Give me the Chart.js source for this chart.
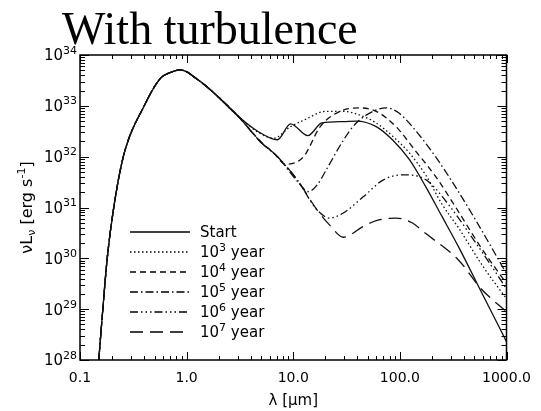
<!DOCTYPE html>
<html>
<head>
<meta charset="utf-8">
<script src="https://cdn.jsdelivr.net/npm/chart.js@4.4.0/dist/chart.umd.min.js"></script>
<style>
  html, body { margin: 0; padding: 0; background: #fff; }
</style>
</head>
<body>
<canvas id="sed" width="541" height="411"></canvas>
<script>
// stellar part, shared by every epoch (wavelength in micron, nuL_nu in erg/s)
const starWave = [0.15, 0.164, 0.18, 0.208, 0.257, 0.40, 0.57, 0.70, 0.875, 1.29, 1.70, 3.03];
const starLum = [1e28, 1.05e29, 1.0e30, 1.05e31, 1.07e32, 1.0e33, 3.5e33, 4.5e33, 5.1e33, 3.2e33, 2.0e33, 6.3e32];

// disk excess, one pair of arrays per epoch
const startWave = [4.6, 7.1, 9.45, 13.7, 18.6, 29.5, 39, 60, 86, 123, 174, 249, 354, 600, 1000];
const startLum = [3.2e32, 2.15e32, 4.4e32, 2.6e32, 4.6e32, 4.9e32, 5.0e32, 3.9e32, 2.1e32, 8.7e31, 2.6e31, 6.6e30, 1.7e30, 1.9e29, 2.3e28];

const yr3Wave = [4.6, 6.5, 9.45, 12.5, 20.4, 29.5, 41.8, 60, 86, 122, 174, 249, 354, 600, 1000];
const yr3Lum = [3.1e32, 2.3e32, 3.9e32, 5.2e32, 7.8e32, 7.8e32, 6.6e32, 4.6e32, 2.5e32, 1.2e32, 4.4e31, 1.15e31, 4.0e30, 7.0e29, 1.6e29];

const yr4Wave = [4.94, 6.5, 8.5, 12.5, 17.9, 27.4, 42, 60, 92, 138, 216, 330, 580, 1000];
const yr4Lum = [2.0e32, 1.2e32, 7.1e31, 1.0e32, 3.9e32, 7.8e32, 9.1e32, 7.8e32, 3.9e32, 1.35e32, 4.1e31, 1.05e31, 1.6e30, 3.2e29];

const yr5Wave = [4.94, 7.1, 10.9, 13.9, 17, 20.4, 29.5, 39, 60, 74.5, 98, 138, 216, 330, 510, 1000];
const yr5Lum = [1.95e32, 1.0e32, 3.3e31, 2.05e31, 2.9e31, 5.5e31, 2.1e32, 4.6e32, 8.3e32, 9.1e32, 7.2e32, 3.4e32, 1.0e32, 2.6e31, 5.8e30, 5.0e29];

const yr6Wave = [4.94, 7.1, 10.9, 16.7, 22, 29.5, 45, 70, 107, 150, 186, 300, 500, 750, 1000];
const yr6Lum = [1.95e32, 1.0e32, 3.5e31, 9.0e30, 6.2e30, 7.8e30, 1.6e31, 3.5e31, 4.4e31, 4.1e31, 3.2e31, 1.0e31, 2.2e30, 6.3e29, 2.5e29];

const yr7Wave = [4.94, 7.1, 10.9, 16.7, 22, 29.5, 45, 60, 92, 130, 174, 354, 580, 1000];
const yr7Lum = [1.95e32, 1.0e32, 3.5e31, 9.0e30, 4.5e30, 2.6e30, 4.2e30, 5.5e30, 6.2e30, 5.0e30, 3.1e30, 9.3e29, 2.5e29, 8.9e28];

const seriesLabels = ['Start', '10^3 year', '10^4 year', '10^5 year', '10^6 year', '10^7 year'];
const xTickLabels = ['0.1', '1.0', '10.0', '100.0', '1000.0'];

const SANS = '"DejaVu Sans", sans-serif';

function pts(wave, lum) {
  const w = starWave.concat(wave);
  const l = starLum.concat(lum);
  return w.map((x, i) => ({ x: x, y: l[i] }));
}

// split "10^3 year" / "νL_ν [erg s^-1]" into normal, raised and lowered runs
function parseRich(text) {
  const out = [];
  const re = /([\^_])([^\s\[\]]+)|([^\^_]+)/g;
  let m;
  while ((m = re.exec(text))) {
    if (m[3]) out.push([m[3], 0]);
    else out.push([m[2], m[1] === '^' ? 1 : -1]);
  }
  return out;
}

function drawRich(ctx, text, x, y, size, align) {
  const parts = parseRich(text);
  const small = Math.round(size * 0.7);
  const fontOf = k => (k ? small : size) + 'px ' + SANS;
  let w = 0;
  parts.forEach(p => { ctx.font = fontOf(p[1]); w += ctx.measureText(p[0]).width; });
  let cx = x;
  if (align === 'right') cx = x - w;
  if (align === 'center') cx = x - w / 2;
  const base = y + size * 0.36;
  ctx.textAlign = 'left';
  ctx.textBaseline = 'alphabetic';
  parts.forEach(p => {
    ctx.font = fontOf(p[1]);
    let by = base;
    if (p[1] === 1) by = base - size * 0.45;
    if (p[1] === -1) by = base + size * 0.22;
    ctx.fillText(p[0], cx, by);
    cx += ctx.measureText(p[0]).width;
  });
}

function isDecade(v) {
  const e = Math.log10(v);
  return Math.abs(e - Math.round(e)) < 1e-6;
}

// IDL style frame: inward ticks on all four sides, power-of-ten labels, legend, title
const decor = {
  id: 'decor',
  afterDraw(chart) {
    const { ctx, chartArea: a, scales } = chart;
    const xs = scales.x, ys = scales.y;
    ctx.save();
    ctx.strokeStyle = '#000';
    ctx.fillStyle = '#000';
    ctx.lineWidth = 1;
    const seg = (x1, y1, x2, y2) => { ctx.beginPath(); ctx.moveTo(x1, y1); ctx.lineTo(x2, y2); ctx.stroke(); };

    for (let e = Math.round(Math.log10(xs.min)); e <= Math.round(Math.log10(xs.max)); e++) {
      for (let k = 1; k <= 9; k++) {
        const v = k * Math.pow(10, e);
        if (v > xs.max * 1.0001) break;
        const px = Math.round(xs.getPixelForValue(v)) + 0.5;
        const len = k === 1 ? 8 : 4;
        seg(px, a.bottom, px, a.bottom - len);
        seg(px, a.top, px, a.top + len);
      }
    }
    for (let e = Math.round(Math.log10(ys.min)); e <= Math.round(Math.log10(ys.max)); e++) {
      for (let k = 1; k <= 9; k++) {
        const v = k * Math.pow(10, e);
        if (v > ys.max * 1.0001) break;
        const py = Math.round(ys.getPixelForValue(v)) + 0.5;
        const len = k === 1 ? 9 : 5;
        seg(a.left, py, a.left + len, py);
        seg(a.right, py, a.right - len, py);
      }
      drawRich(ctx, '10^' + e, a.left - 3, ys.getPixelForValue(Math.pow(10, e)), 15, 'right');
    }

    ctx.lineWidth = 1.5;
    ctx.strokeRect(a.left, a.top, a.right - a.left, a.bottom - a.top);

    // y axis title
    ctx.save();
    ctx.translate(26, (a.top + a.bottom) / 2);
    ctx.rotate(-Math.PI / 2);
    drawRich(ctx, 'νL_ν [erg s^-1]', 0, 0, 16, 'center');
    ctx.restore();

    // legend inside the plot
    chart.data.datasets.forEach((ds, i) => {
      const ly = 232 + i * 20;
      ctx.setLineDash(ds.borderDash || []);
      ctx.lineWidth = ds.borderWidth;
      seg(130, ly, 190, ly);
      ctx.setLineDash([]);
      drawRich(ctx, ds.label, 200, ly, 15, 'left');
    });

    // title
    ctx.font = '46px "Liberation Serif", serif';
    ctx.textAlign = 'left';
    ctx.textBaseline = 'alphabetic';
    ctx.fillText('With turbulence', 62, 44);
    ctx.restore();
  }
};

const lineStyle = (label, data, dash) => ({
  label: label,
  data: data,
  borderColor: '#111',
  borderWidth: 1.3,
  borderDash: dash,
  pointRadius: 0,
  fill: false,
  cubicInterpolationMode: 'monotone'
});

Chart.defaults.font.family = SANS;
Chart.defaults.color = '#000';

new Chart(document.getElementById('sed').getContext('2d'), {
  type: 'line',
  data: {
    datasets: [
      lineStyle(seriesLabels[0], pts(startWave, startLum), []),
      lineStyle(seriesLabels[1], pts(yr3Wave, yr3Lum), [1.5, 2.5]),
      lineStyle(seriesLabels[2], pts(yr4Wave, yr4Lum), [6, 4]),
      lineStyle(seriesLabels[3], pts(yr5Wave, yr5Lum), [8, 3, 1.5, 3]),
      lineStyle(seriesLabels[4], pts(yr6Wave, yr6Lum), [8, 3, 1.5, 3, 1.5, 3, 1.5, 3]),
      lineStyle(seriesLabels[5], pts(yr7Wave, yr7Lum), [13, 7])
    ]
  },
  options: {
    responsive: false,
    animation: false,
    layout: { padding: { top: 55, right: 29, left: 0, bottom: 0 } },
    plugins: {
      legend: { display: false },
      tooltip: { enabled: false },
      title: { display: false }
    },
    scales: {
      x: {
        type: 'logarithmic',
        position: 'bottom',
        min: 0.1,
        max: 1000,
        grid: { display: false, drawTicks: false },
        border: { display: false },
        afterFit: s => { s.height = 51; },
        ticks: {
          autoSkip: false,
          maxRotation: 0,
          padding: 10,
          font: { size: 14 },
          callback: v => {
            if (!isDecade(v)) return '';
            return xTickLabels[Math.round(Math.log10(v)) + 1];
          }
        },
        title: {
          display: true,
          text: 'λ [μm]',
          font: { size: 15 },
          padding: { top: 0, bottom: 1 }
        }
      },
      y: {
        type: 'logarithmic',
        min: 1e28,
        max: 1e34,
        grid: { display: false, drawTicks: false },
        border: { display: false },
        afterFit: s => { s.width = 80; },
        ticks: { display: false }
      }
    }
  },
  plugins: [decor]
});
</script>
</body>
</html>
